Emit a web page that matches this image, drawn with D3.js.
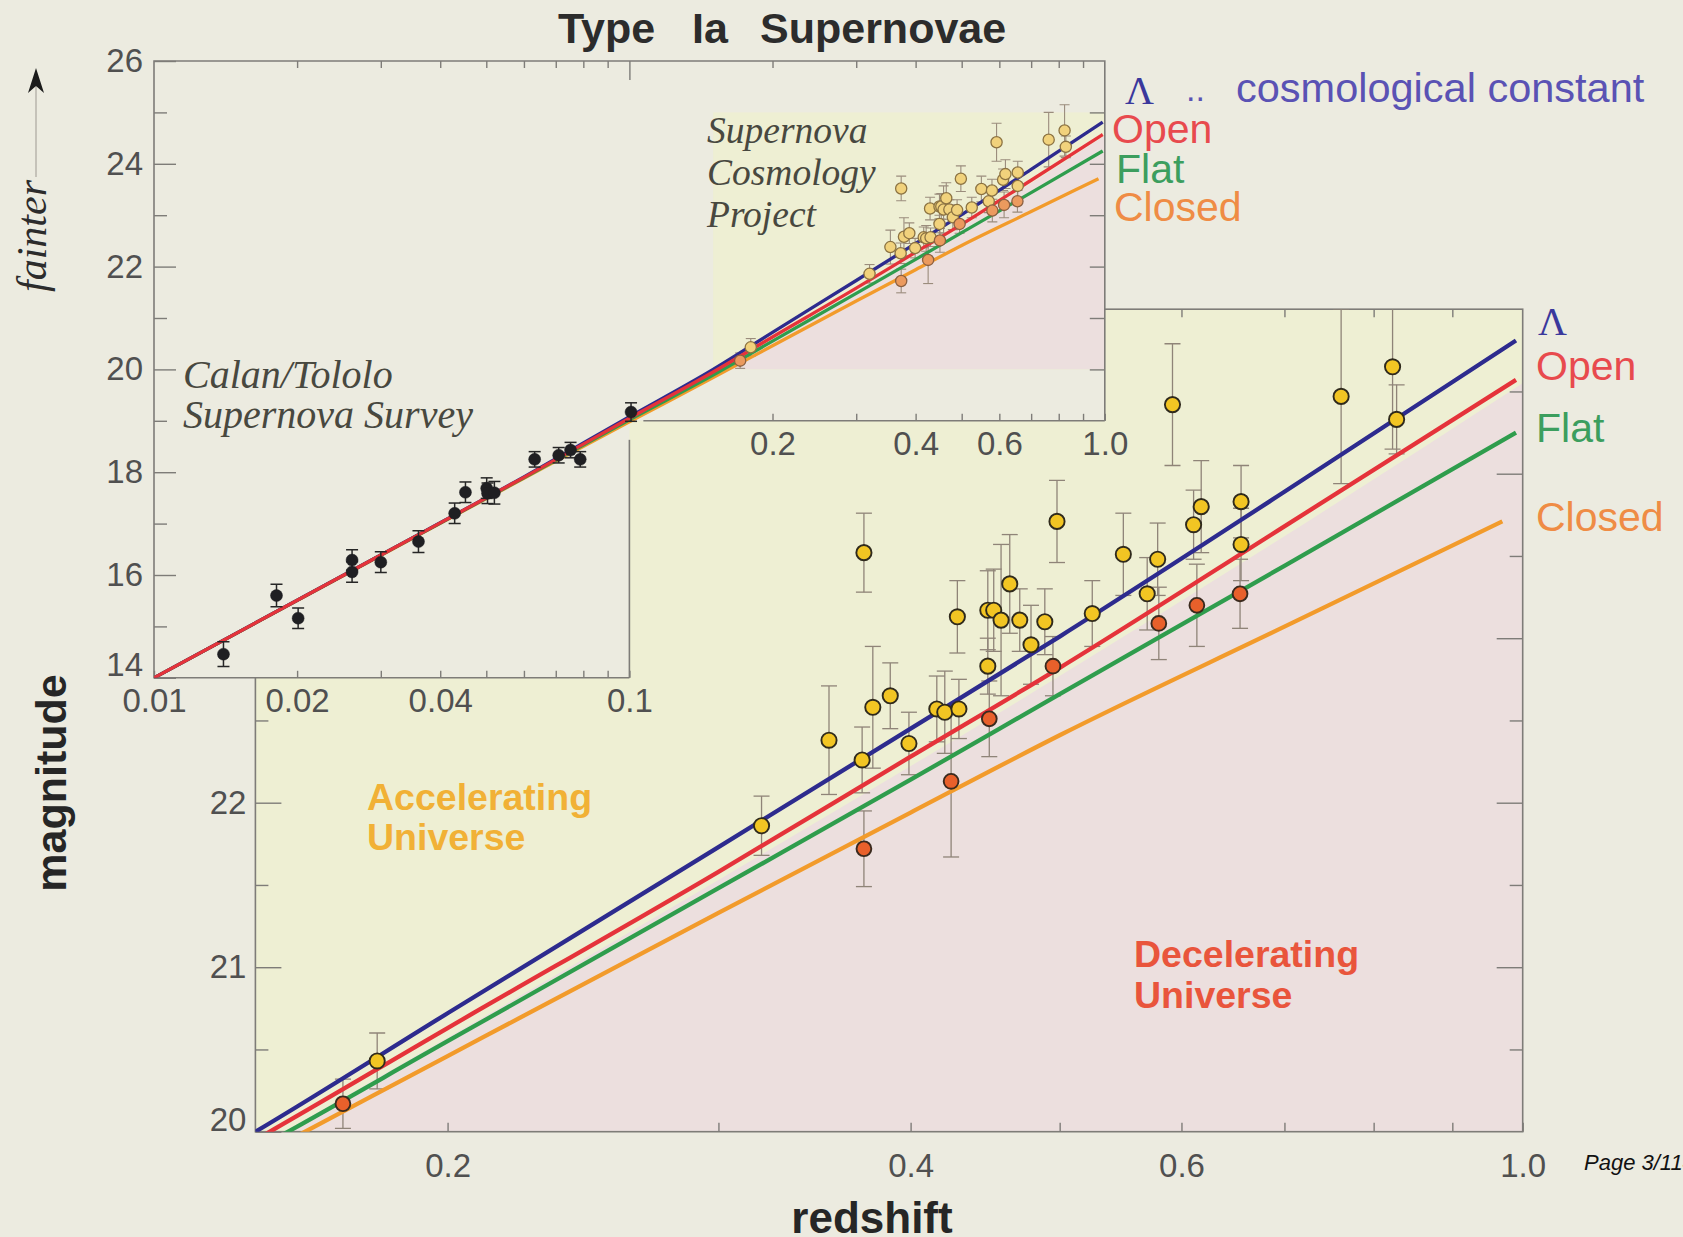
<!DOCTYPE html>
<html>
<head>
<meta charset="utf-8">
<script src="https://cdn.jsdelivr.net/npm/d3@7"></script>
<style>
  html, body { margin: 0; padding: 0; background: #ecebe0; }
  svg { display: block; }
</style>
</head>
<body>
<svg id="chart" width="1683" height="1237"></svg>
<script>
// ---------- data ----------
// Model curves: apparent magnitude against redshift
const modelZ    = [0.01, 0.03, 0.06, 0.1, 0.15, 0.2, 0.3, 0.4, 0.5, 0.7, 0.99];
const closedZ   = [0.01, 0.03, 0.06, 0.1, 0.15, 0.2, 0.3, 0.4, 0.5, 0.7, 0.97];
const lambdaMag = [14.0, 16.39, 17.91, 19.08, 20.00, 20.72, 21.73, 22.45, 23.01, 23.89, 24.81];
const openMag   = [14.0, 16.39, 17.90, 19.05, 19.95, 20.63, 21.58, 22.28, 22.82, 23.68, 24.57];
const flatMag   = [14.0, 16.39, 17.89, 19.02, 19.89, 20.55, 21.48, 22.14, 22.66, 23.44, 24.25];
const closedMag = [14.0, 16.38, 17.88, 18.98, 19.84, 20.46, 21.33, 21.94, 22.41, 23.07, 23.71];

// Edge of the "decelerating" shading
const boundaryZ   = [0.15, 0.3, 0.5, 0.7, 1.0];
const boundaryMag = [19.90, 21.53, 22.77, 23.62, 24.55];

// Calan/Tololo supernovae: [redshift, magnitude, error]
const calanTololo = [
  [0.0140, 14.46, 0.24], [0.0181, 15.60, 0.22], [0.0201, 15.16, 0.20],
  [0.0261, 16.29, 0.20], [0.0261, 16.06, 0.20], [0.0300, 16.25, 0.20],
  [0.0360, 16.65, 0.21], [0.0429, 17.20, 0.20], [0.0452, 17.61, 0.20],
  [0.0501, 17.69, 0.20], [0.0503, 17.59, 0.20], [0.0520, 17.60, 0.22],
  [0.0632, 18.25, 0.15], [0.0710, 18.33, 0.15], [0.0752, 18.43, 0.15],
  [0.0788, 18.25, 0.15], [0.1008, 19.17, 0.18]
];

// Supernova Cosmology Project, brighter than the open model: [redshift, magnitude, error]
const scpAccel = [
  [0.180, 20.43, 0.17], [0.320, 21.86, 0.18], [0.354, 22.38, 0.33], [0.372, 22.26, 0.20],
  [0.373, 23.52, 0.24], [0.378, 22.58, 0.37], [0.388, 22.65, 0.20], [0.399, 22.36, 0.19],
  [0.416, 22.57, 0.20], [0.421, 22.55, 0.25], [0.429, 23.13, 0.22], [0.430, 22.57, 0.18],
  [0.449, 22.83, 0.17], [0.449, 23.17, 0.24], [0.453, 23.17, 0.25], [0.458, 23.11, 0.46],
  [0.464, 23.33, 0.30], [0.471, 23.11, 0.19], [0.479, 22.96, 0.24], [0.489, 23.10, 0.20],
  [0.498, 23.71, 0.25], [0.525, 23.15, 0.20], [0.550, 23.51, 0.25], [0.570, 23.27, 0.22],
  [0.579, 23.48, 0.22], [0.592, 24.42, 0.37], [0.611, 23.69, 0.21], [0.618, 23.80, 0.28],
  [0.656, 23.83, 0.22], [0.656, 23.57, 0.22], [0.762, 24.47, 0.53], [0.823, 24.65, 0.50],
  [0.828, 24.33, 0.21]
];
// Supernova Cosmology Project, fainter than the open model
const scpDecel = [
  [0.171, 20.17, 0.15], [0.373, 21.72, 0.23], [0.425, 22.13, 0.46], [0.450, 22.51, 0.23],
  [0.495, 22.83, 0.18], [0.580, 23.09, 0.22], [0.614, 23.20, 0.25], [0.655, 23.27, 0.21]
];

// Axis ticks
const topMagMajor = [14, 16, 18, 20, 22, 24, 26];
const topMagMinor = [15, 17, 19, 21, 23, 25];
const topMagRight = [20, 21, 22, 23, 24, 25];
const topZLow     = [0.01, 0.02, 0.03, 0.04, 0.05, 0.06, 0.07, 0.08, 0.09, 0.1];
const topZLowLab  = [0.01, 0.02, 0.04, 0.1];
const topZHigh    = [0.2, 0.3, 0.4, 0.5, 0.6, 0.7, 0.8, 0.9, 1.0];
const topZHighLab = [0.2, 0.4, 0.6, 1.0];
const topZTop     = [0.02, 0.03, 0.04, 0.05, 0.06, 0.07, 0.08, 0.09, 0.2, 0.3, 0.4, 0.5, 0.6, 0.7, 0.8, 0.9];
const lowMagMajor = [20, 21, 22, 23, 24, 25];
const lowMagMinor = [20.5, 21.5, 22.5, 23.5, 24.5];
const lowZTicks   = [0.2, 0.3, 0.4, 0.5, 0.6, 0.7, 0.8, 0.9, 1.0];
const lowZLab     = [0.2, 0.4, 0.6, 1.0];

// ---------- styling ----------
const BG = '#ecebe0', YEL = '#eeefd3', PINK = '#ecdfde';
const AXIS = '#7e7c78', LABEL = '#505050';
const SANS = '"Liberation Sans", Arial, Helvetica, sans-serif';
const SERIF = '"Liberation Serif", "Times New Roman", serif';
const COL = { lambda: '#2d2b8e', open: '#e5333a', flat: '#2f9d4d', closed: '#f29b2b' };

const svg = d3.select('#chart');
const defs = svg.append('defs');
svg.append('rect').attr('width', 1683).attr('height', 1237).attr('fill', BG);

// ---------- scales ----------
const xTop = d3.scaleLog().domain([0.01, 1]).range([154, 1104.8]);
const yTop = d3.scaleLinear().domain([14, 26]).range([677.8, 61]);
const xLow = d3.scaleLog().domain([0.15, 1]).range([255.4, 1522.7]);
const yLow = d3.scaleLinear().domain([20, 25]).range([1131.7, 309.2]);

const models = [
  { key: 'closed', z: closedZ, m: closedMag },
  { key: 'flat',   z: modelZ,  m: flatMag },
  { key: 'lambda', z: modelZ,  m: lambdaMag },
  { key: 'open',   z: modelZ,  m: openMag }
];
const boundary = d3.zip(boundaryZ, boundaryMag);

function styleAxis(g, fmtSize) {
  g.attr('color', AXIS).attr('font-family', SANS).attr('font-size', fmtSize || 33);
  g.select('.domain').remove();
  g.selectAll('.tick line').attr('stroke-width', 1.4);
  g.selectAll('.tick text').attr('fill', LABEL);
  return g;
}
function fmtOnly(list, f) { return d => list.includes(d) ? f(d) : ''; }

function drawErrorBars(g, data, x, y, cap, color, width) {
  const e = g.append('g').attr('stroke', color).attr('stroke-width', width).attr('fill', 'none');
  e.selectAll('line.v').data(data).enter().append('line')
    .attr('x1', d => x(d[0])).attr('x2', d => x(d[0]))
    .attr('y1', d => y(d[1] + d[2])).attr('y2', d => y(d[1] - d[2]));
  e.selectAll('line.t').data(data).enter().append('line')
    .attr('x1', d => x(d[0]) - cap).attr('x2', d => x(d[0]) + cap)
    .attr('y1', d => y(d[1] + d[2])).attr('y2', d => y(d[1] + d[2]));
  e.selectAll('line.b').data(data).enter().append('line')
    .attr('x1', d => x(d[0]) - cap).attr('x2', d => x(d[0]) + cap)
    .attr('y1', d => y(d[1] - d[2])).attr('y2', d => y(d[1] - d[2]));
}
function drawDots(g, data, x, y, r, fill, stroke, sw) {
  g.append('g').selectAll('circle').data(data).enter().append('circle')
    .attr('cx', d => x(d[0])).attr('cy', d => y(d[1])).attr('r', r)
    .attr('fill', fill).attr('stroke', stroke).attr('stroke-width', sw);
}

// ================= expanded high-redshift panel =================
const L = { x0: xLow.range()[0], x1: xLow.range()[1], y0: yLow.range()[1], y1: yLow.range()[0] };
defs.append('clipPath').attr('id', 'clipLow').append('rect')
  .attr('x', L.x0).attr('y', L.y0).attr('width', L.x1 - L.x0).attr('height', L.y1 - L.y0);

const lowPanel = svg.append('g');
lowPanel.append('rect').attr('x', L.x0).attr('y', L.y0).attr('width', L.x1 - L.x0).attr('height', L.y1 - L.y0).attr('fill', YEL);
lowPanel.append('path').datum(boundary)
  .attr('d', d3.area().x(d => xLow(d[0])).y0(yLow(20)).y1(d => yLow(d[1])).curve(d3.curveMonotoneX))
  .attr('fill', PINK).attr('clip-path', 'url(#clipLow)');

lowPanel.append('text').attr('font-family', SANS).attr('font-weight', 'bold').attr('font-size', 37.5).attr('fill', '#f1b136')
  .selectAll('tspan').data(['Accelerating', 'Universe']).enter().append('tspan')
  .attr('x', 367).attr('y', (d, i) => 810 + i * 40).text(d => d);
lowPanel.append('text').attr('font-family', SANS).attr('font-weight', 'bold').attr('font-size', 37.5).attr('fill', '#e9553c')
  .selectAll('tspan').data(['Decelerating', 'Universe']).enter().append('tspan')
  .attr('x', 1134).attr('y', (d, i) => 967 + i * 41).text(d => d);

// frame
lowPanel.append('rect').attr('x', L.x0).attr('y', L.y0).attr('width', L.x1 - L.x0).attr('height', L.y1 - L.y0)
  .attr('fill', 'none').attr('stroke', AXIS).attr('stroke-width', 1.6);

// axes
const lowLeft = styleAxis(lowPanel.append('g').attr('transform', `translate(${L.x0},0)`)
  .call(d3.axisLeft(yLow).tickValues(lowMagMajor).tickSizeInner(-26).tickSizeOuter(0).tickPadding(9).tickFormat(d3.format('d'))));
lowLeft.selectAll('.tick text').filter(d => d === 20).attr('dy', '-0.05em');
styleAxis(lowPanel.append('g').attr('transform', `translate(${L.x0},0)`)
  .call(d3.axisLeft(yLow).tickValues(lowMagMinor).tickSizeInner(-13).tickSizeOuter(0).tickFormat('')));
styleAxis(lowPanel.append('g').attr('transform', `translate(${L.x1},0)`)
  .call(d3.axisRight(yLow).tickValues(lowMagMajor.slice(1, -1)).tickSizeInner(-26).tickSizeOuter(0).tickFormat('')));
styleAxis(lowPanel.append('g').attr('transform', `translate(${L.x1},0)`)
  .call(d3.axisRight(yLow).tickValues(lowMagMinor).tickSizeInner(-13).tickSizeOuter(0).tickFormat('')));
styleAxis(lowPanel.append('g').attr('transform', `translate(0,${L.y1})`)
  .call(d3.axisBottom(xLow).tickValues(lowZTicks).tickSizeInner(-9).tickSizeOuter(0).tickPadding(22)
    .tickFormat(fmtOnly(lowZLab, d3.format('.1f')))));
styleAxis(lowPanel.append('g').attr('transform', `translate(0,${L.y0})`)
  .call(d3.axisTop(xLow).tickValues(lowZTicks.slice(0, -1)).tickSizeInner(-8).tickSizeOuter(0).tickFormat('')));

// data
const lowData = lowPanel.append('g').attr('clip-path', 'url(#clipLow)');
drawErrorBars(lowData, scpAccel.concat(scpDecel), xLow, yLow, 8, '#8f8478', 1.3);
const lineLow = d3.line().x(d => xLow(d[0])).y(d => yLow(d[1])).curve(d3.curveMonotoneX);
models.forEach(md => {
  lowData.append('path').datum(d3.zip(md.z, md.m)).attr('d', lineLow)
    .attr('fill', 'none').attr('stroke', COL[md.key]).attr('stroke-width', 4.3);
});
drawDots(lowData, scpAccel, xLow, yLow, 7.6, '#f2c523', '#2f2a1c', 1.9);
drawDots(lowData, scpDecel, xLow, yLow, 7.4, '#e8602b', '#3a2a1e', 1.9);

// legend beside the expanded panel
const legLow = lowPanel.append('g');
legLow.append('text').attr('x', 1538).attr('y', 335).attr('font-family', SERIF).attr('font-size', 40).attr('fill', '#3a389c').text('Λ');
[['Open', 380, '#e84a4e'], ['Flat', 442, '#3c9e5e'], ['Closed', 531, '#ef8c45']].forEach(t => {
  legLow.append('text').attr('x', 1536).attr('y', t[1]).attr('font-family', SANS).attr('font-size', 41)
    .attr('fill', t[2]).text(t[0]);
});

// ================= full-range panel =================
const T = { x0: xTop.range()[0], x1: xTop.range()[1], y0: yTop.range()[1], y1: yTop.range()[0],
            xn: xTop(0.1), yn: yTop(19) };
const fullPanel = svg.append('g');
// panel body with a notch where the expanded panel shows through
fullPanel.append('path')
  .attr('d', `M${T.x0},${T.y0}H${T.x1}V${T.yn}H${T.xn}V${T.y1}H${T.x0}Z`)
  .attr('fill', BG);

// shaded Supernova Cosmology Project window (0.15 < z < 1, 20 < m < 25)
const sx0 = xTop(0.15), sx1 = xTop(1), sy0 = yTop(25), sy1 = yTop(20);
defs.append('clipPath').attr('id', 'clipShade').append('rect')
  .attr('x', sx0).attr('y', sy0).attr('width', sx1 - sx0).attr('height', sy1 - sy0);
fullPanel.append('rect').attr('x', sx0).attr('y', sy0).attr('width', sx1 - sx0).attr('height', sy1 - sy0).attr('fill', YEL);
fullPanel.append('path').datum(boundary)
  .attr('d', d3.area().x(d => xTop(d[0])).y0(yTop(20)).y1(d => yTop(d[1])).curve(d3.curveMonotoneX))
  .attr('fill', PINK).attr('clip-path', 'url(#clipShade)');

// frame pieces
const fr = fullPanel.append('g').attr('fill', 'none').attr('stroke', AXIS).attr('stroke-width', 1.6);
fr.append('path').attr('d', `M${T.xn},${T.y1}H${T.x0}V${T.y0}H${T.x1}V${T.yn}`);
fr.append('path').attr('d', `M${xTop(0.107)},${T.yn}H${T.x1}`);
fr.append('path').attr('d', `M${T.xn},${yTop(18.63)}V${T.y1}`);

// axes
const topLeft = styleAxis(fullPanel.append('g').attr('transform', `translate(${T.x0},0)`)
  .call(d3.axisLeft(yTop).tickValues(topMagMajor).tickSizeInner(-22).tickSizeOuter(0).tickPadding(11).tickFormat(d3.format('d'))));
topLeft.selectAll('.tick text').filter(d => d === 14).attr('dy', '-0.06em');
styleAxis(fullPanel.append('g').attr('transform', `translate(${T.x0},0)`)
  .call(d3.axisLeft(yTop).tickValues(topMagMinor).tickSizeInner(-13).tickSizeOuter(0).tickFormat('')));
styleAxis(fullPanel.append('g').attr('transform', `translate(${T.x1},0)`)
  .call(d3.axisRight(yTop).tickValues(topMagRight).tickSizeInner(-15).tickSizeOuter(0).tickFormat('')));
styleAxis(fullPanel.append('g').attr('transform', `translate(0,${T.y0})`)
  .call(d3.axisTop(xTop).tickValues(topZTop).tickSizeInner(-7).tickSizeOuter(0).tickFormat('')));
styleAxis(fullPanel.append('g').attr('transform', `translate(0,${T.y0})`)
  .call(d3.axisTop(xTop).tickValues([0.1]).tickSizeInner(-19).tickSizeOuter(0).tickFormat('')));
styleAxis(fullPanel.append('g').attr('transform', `translate(0,${T.y1})`)
  .call(d3.axisBottom(xTop).tickValues(topZLow).tickSizeInner(-7).tickSizeOuter(0).tickPadding(10.5)
    .tickFormat(fmtOnly(topZLowLab, d3.format('~g')))));
styleAxis(fullPanel.append('g').attr('transform', `translate(0,${T.yn})`)
  .call(d3.axisBottom(xTop).tickValues(topZHigh).tickSizeInner(-7).tickSizeOuter(0).tickPadding(11)
    .tickFormat(fmtOnly(topZHighLab, d3.format('.1f')))));

// panel annotations
const annTop = fullPanel.append('g').attr('font-family', SERIF).attr('font-style', 'italic').attr('fill', '#48483f');
annTop.append('text').attr('font-size', 40).selectAll('tspan').data(['Calan/Tololo', 'Supernova Survey']).enter()
  .append('tspan').attr('x', 183).attr('y', (d, i) => 388 + i * 40).text(d => d);
annTop.append('text').attr('font-size', 37.5).selectAll('tspan').data(['Supernova', 'Cosmology', 'Project']).enter()
  .append('tspan').attr('x', 707).attr('y', (d, i) => 143 + i * 42).text(d => d);

// data
defs.append('clipPath').attr('id', 'clipTop').append('rect')
  .attr('x', T.x0).attr('y', T.y0).attr('width', T.x1 - T.x0).attr('height', T.y1 - T.y0);
const topData = fullPanel.append('g').attr('clip-path', 'url(#clipTop)');
const lineTop = d3.line().x(d => xTop(d[0])).y(d => yTop(d[1])).curve(d3.curveMonotoneX);
drawErrorBars(topData, scpAccel.concat(scpDecel), xTop, yTop, 5, '#9a8c7c', 1.1);
models.forEach(md => {
  topData.append('path').datum(d3.zip(md.z, md.m)).attr('d', lineTop)
    .attr('fill', 'none').attr('stroke', COL[md.key]).attr('stroke-width', 3.3);
});
drawErrorBars(topData, calanTololo, xTop, yTop, 6, '#262626', 1.5);
drawDots(topData, calanTololo, xTop, yTop, 6, '#1f1f22', '#1f1f22', 0.5);
drawDots(topData, scpAccel, xTop, yTop, 5.6, '#f1d27c', '#8c7342', 1.3);
drawDots(topData, scpDecel, xTop, yTop, 5.6, '#eb9a5e', '#8c6040', 1.3);

// legend beside the full-range panel
const legTop = fullPanel.append('g').attr('font-family', SANS);
legTop.append('text').attr('x', 1125).attr('y', 104).attr('font-family', SERIF).attr('font-size', 40).attr('fill', '#3a389c').text('Λ');
legTop.append('text').attr('x', 1186).attr('y', 101).attr('font-size', 34).attr('fill', '#5a52b4').text('..');
legTop.append('text').attr('x', 1236).attr('y', 102).attr('font-size', 41.5).attr('fill', '#5a52b4').text('cosmological constant');
[['Open', 1112, 143, '#e84a4e'], ['Flat', 1116, 183, '#3c9e5e'], ['Closed', 1114, 221, '#ef8c45']].forEach(t => {
  legTop.append('text').attr('x', t[1]).attr('y', t[2]).attr('font-size', 41).attr('fill', t[3]).text(t[0]);
});

// ================= titles =================
const title = svg.append('text').attr('y', 43).attr('font-family', SANS).attr('font-weight', 'bold')
  .attr('font-size', 43).attr('fill', '#2c2c2c');
[['Type', 558], ['Ia', 692], ['Supernovae', 760]].forEach(w => title.append('tspan').attr('x', w[1]).text(w[0]));

svg.append('text').attr('transform', 'translate(66,783) rotate(-90)').attr('text-anchor', 'middle')
  .attr('font-family', SANS).attr('font-weight', 'bold').attr('font-size', 43).attr('fill', '#262626').text('magnitude');
svg.append('text').attr('x', 872).attr('y', 1233).attr('text-anchor', 'middle')
  .attr('font-family', SANS).attr('font-weight', 'bold').attr('font-size', 44).attr('fill', '#262626').text('redshift');

// "fainter" with upward arrow
svg.append('text').attr('transform', 'translate(46,236) rotate(-90)').attr('text-anchor', 'middle')
  .attr('font-family', SERIF).attr('font-style', 'italic').attr('font-size', 42).attr('fill', '#2c2c2c').text('fainter');
svg.append('line').attr('x1', 36).attr('x2', 36).attr('y1', 177).attr('y2', 86)
  .attr('stroke', '#b8b5ac').attr('stroke-width', 1.5);
svg.append('path').attr('d', 'M36,68 L44,93 L36,86 L28,93 Z').attr('fill', '#1b1b1b');

svg.append('text').attr('x', 1584).attr('y', 1170).attr('font-family', SANS).attr('font-style', 'italic')
  .attr('font-size', 22).attr('fill', '#111').text('Page 3/114');
</script>
</body>
</html>
